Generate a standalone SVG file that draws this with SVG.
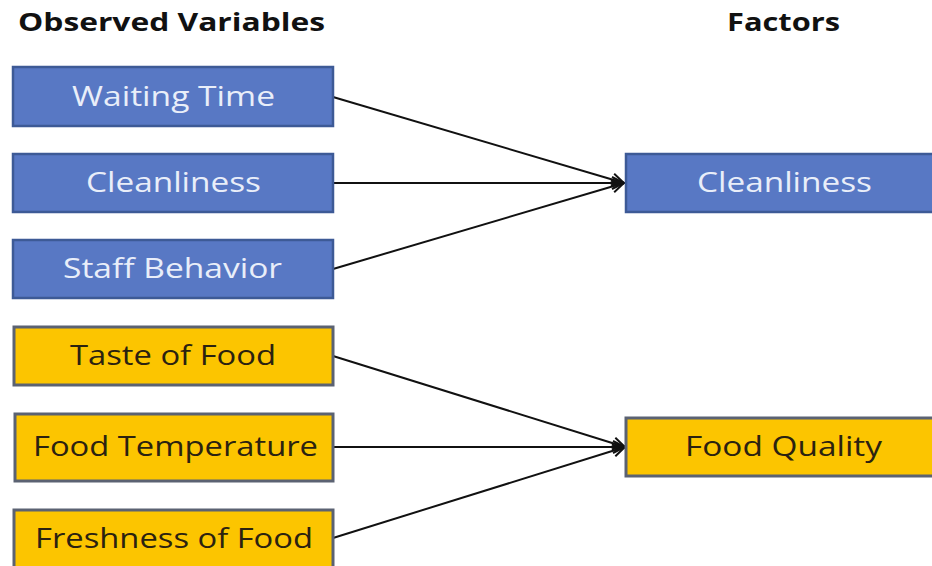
<svg xmlns="http://www.w3.org/2000/svg" width="932" height="566" viewBox="0 0 932 566">
<defs>
<style>
.hdr{font-family:"Open Sans","Liberation Sans",sans-serif;font-weight:bold;font-size:25px;fill:#111;}
.blue rect{fill:#5878c4;stroke:#3d5a96;stroke-width:2.5;}
.yel rect{fill:#fcc500;stroke:#5b6272;stroke-width:3;}
.lbl{font-family:"Open Sans","Liberation Sans",sans-serif;font-size:27px;text-anchor:middle;}
.blue .lbl{fill:#e9eef9;}
.yel .lbl{fill:#2b2210;}
.conn line{stroke:#111;stroke-width:2;marker-end:url(#ah);}
</style>
<marker id="ah" viewBox="0 0 14 14" refX="13" refY="7" markerWidth="14" markerHeight="14" markerUnits="userSpaceOnUse" orient="auto">
<path d="M1,1 L13,7 L1,13" fill="none" stroke="#111" stroke-width="2"/>
</marker>
</defs>
<rect width="932" height="566" fill="#fff"/>
<text class="hdr" x="18" y="31" textLength="307" lengthAdjust="spacingAndGlyphs">Observed Variables</text>
<text class="hdr" x="727" y="31" textLength="113" lengthAdjust="spacingAndGlyphs">Factors</text>
<g class="conn">
<line x1="333" y1="97" x2="624" y2="183"/>
<line x1="333" y1="183" x2="624" y2="183"/>
<line x1="333" y1="269" x2="624" y2="183"/>
<line x1="333" y1="356" x2="625" y2="447"/>
<line x1="333" y1="447" x2="625" y2="447"/>
<line x1="333" y1="538" x2="625" y2="447"/>
</g>
<g id="waiting" class="blue"><rect x="13" y="67" width="320" height="59"/><text class="lbl" x="173.5" y="106" textLength="203" lengthAdjust="spacingAndGlyphs">Waiting Time</text></g>
<g id="cleanliness-var" class="blue"><rect x="13" y="154" width="320" height="58"/><text class="lbl" x="173.5" y="192" textLength="175" lengthAdjust="spacingAndGlyphs">Cleanliness</text></g>
<g id="staff" class="blue"><rect x="13" y="240" width="320" height="58"/><text class="lbl" x="172.5" y="278" textLength="219" lengthAdjust="spacingAndGlyphs">Staff Behavior</text></g>
<g id="taste" class="yel"><rect x="14" y="327" width="319" height="58"/><text class="lbl" x="173" y="365" textLength="206" lengthAdjust="spacingAndGlyphs">Taste of Food</text></g>
<g id="temp" class="yel"><rect x="15" y="414" width="318" height="67"/><text class="lbl" x="175.5" y="456" textLength="285" lengthAdjust="spacingAndGlyphs">Food Temperature</text></g>
<g id="fresh" class="yel"><rect x="14" y="510" width="319" height="60"/><text class="lbl" x="174" y="548" textLength="278" lengthAdjust="spacingAndGlyphs">Freshness of Food</text></g>
<g id="cleanliness-factor" class="blue"><rect x="626" y="154" width="320" height="58"/><text class="lbl" x="784.5" y="192" textLength="175" lengthAdjust="spacingAndGlyphs">Cleanliness</text></g>
<g id="food-quality" class="yel"><rect x="626" y="418" width="320" height="58"/><text class="lbl" x="783.5" y="456" textLength="197" lengthAdjust="spacingAndGlyphs">Food Quality</text></g>
</svg>
